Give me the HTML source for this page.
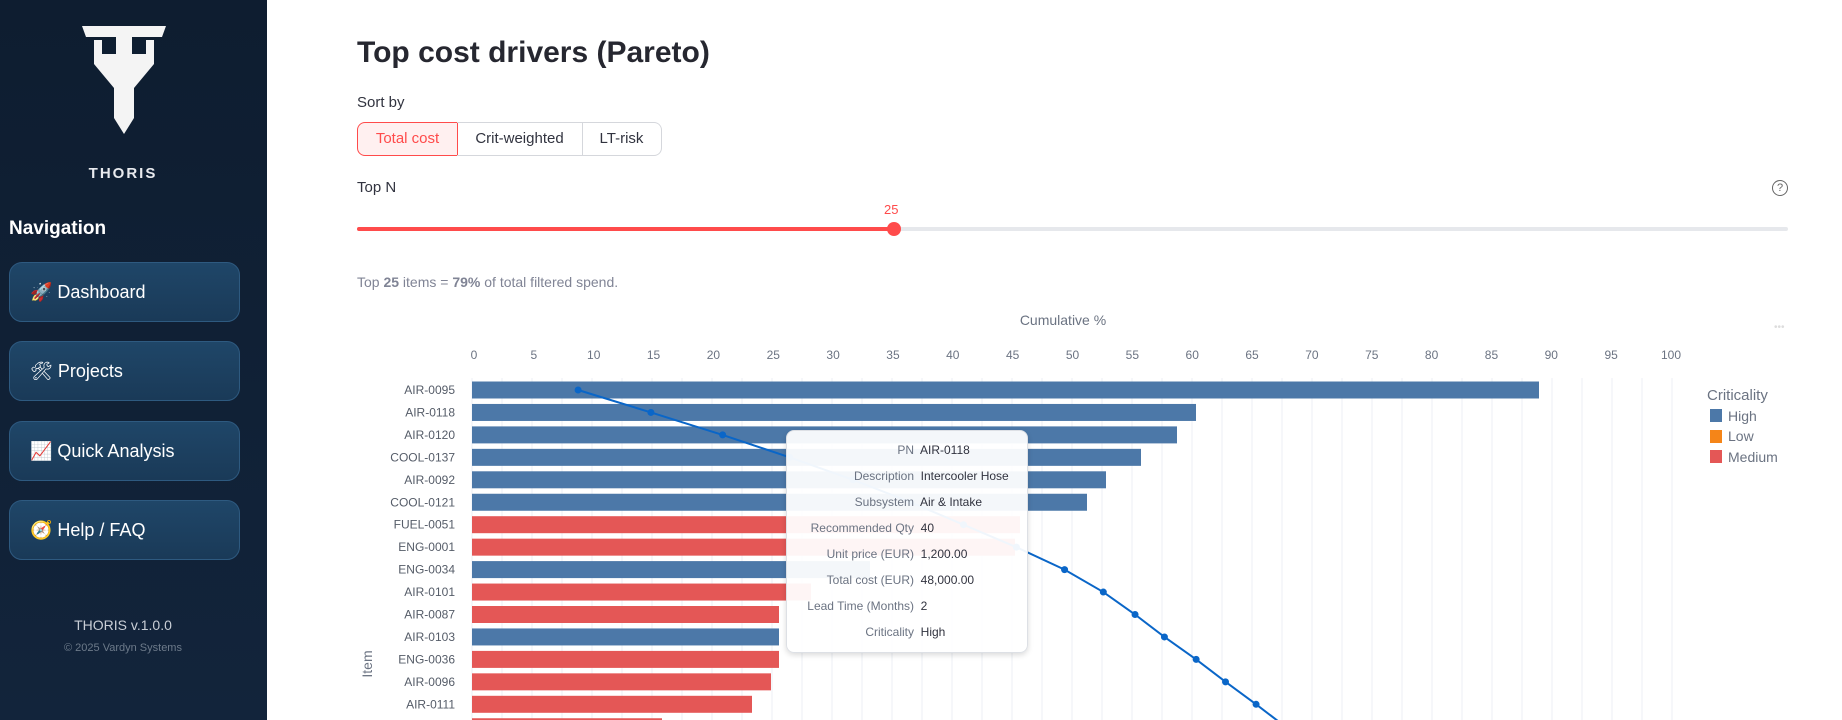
<!DOCTYPE html>
<html><head><meta charset="utf-8"><style>
body{margin:0;width:1842px;height:720px;overflow:hidden;background:#fff;font-family:"Liberation Sans",sans-serif;position:relative}
.sb{position:absolute;left:0;top:0;width:267px;height:720px;background:linear-gradient(#0e1d30,#12243b)}
.a{position:absolute;white-space:nowrap}
.nb{position:absolute;left:9px;width:231px;height:60px;border-radius:13px;background:linear-gradient(#1f4668,#1a3a58);border:1px solid #2e5a80;box-sizing:border-box;color:#fff;font-size:18px;line-height:58px;padding-left:20px}
.seg{position:absolute;top:122px;height:34px;border:1px solid #d5d7dc;box-sizing:border-box;font-size:15px;line-height:32px;text-align:center;color:#31333f}
</style></head><body>
<div class="sb">
<svg style="position:absolute;left:82px;top:26px" width="84" height="108" viewBox="0 0 84 108">
<path d="M0 0H84L80 11H50V28H64V14H72V38L52 62V92L42 108L32 92V62L12 38V14H20V28H34V11H4Z" fill="#f4f4f4"/></svg>
<div class="a" style="left:0;width:246px;text-align:center;top:165px;color:#e8eaee;font-weight:bold;font-size:15px;letter-spacing:2px">THORIS</div>
<div class="a" style="left:9px;top:218px;color:#fff;font-weight:bold;font-size:19px">Navigation</div>
<div class="nb" style="top:262px">🚀 Dashboard</div>
<div class="nb" style="top:341px">🛠 Projects</div>
<div class="nb" style="top:421px">📈 Quick Analysis</div>
<div class="nb" style="top:500px">🧭 Help / FAQ</div>
<div class="a" style="left:0;width:246px;text-align:center;top:617px;color:#c9ced6;font-size:14px">THORIS v.1.0.0</div>
<div class="a" style="left:0;width:246px;text-align:center;top:642px;color:#6d7a8a;font-size:11px">© 2025 Vardyn Systems</div>
</div>
<div class="a" style="left:357px;top:36px;font-size:30px;font-weight:bold;color:#262730">Top cost drivers (Pareto)</div>
<div class="a" style="left:357px;top:94px;font-size:15px;color:#31333f">Sort by</div>
<div class="seg" style="left:357px;width:101px;border-color:#ff4b4b;color:#ff4b4b;background:#fff0f0;border-radius:8px 0 0 8px">Total cost</div>
<div class="seg" style="left:457px;width:126px;border-left:none">Crit-weighted</div>
<div class="seg" style="left:582px;width:80px;border-left:none;border-radius:0 8px 8px 0">LT-risk</div>
<div class="a" style="left:357px;top:179px;font-size:15px;color:#31333f">Top N</div>
<div class="a" style="left:1772px;top:180px;width:14px;height:14px;border:1.5px solid #666;border-radius:50%;font-size:11px;line-height:14px;text-align:center;color:#666">?</div>
<div class="a" style="left:357px;top:227px;width:1431px;height:4px;background:#e6e8ec;border-radius:2px"></div>
<div class="a" style="left:357px;top:227px;width:537px;height:4px;background:#ff4b4b;border-radius:2px"></div>
<div class="a" style="left:887px;top:222px;width:14px;height:14px;background:#ff4b4b;border-radius:50%"></div>
<div class="a" style="left:884px;top:202px;font-size:13px;color:#ff4b4b">25</div>
<div class="a" style="left:357px;top:274px;font-size:14px;color:#808495">Top <b>25</b> items = <b>79%</b> of total filtered spend.</div>
<svg class="a" style="left:0;top:0" width="1842" height="720">
<g stroke="#eceff4" stroke-width="1" id="g"></g>
<text x="1063" y="325" font-size="14" fill="#6b7382" text-anchor="middle" font-family="Liberation Sans">Cumulative %</text>
<g id="t" font-size="12" fill="#6b7382" text-anchor="middle" font-family="Liberation Sans"></g>
<g id="b"></g>
<polyline id="ln" fill="none" stroke="#0a66c8" stroke-width="2"/>
<g id="p" fill="#0a66c8"></g>
<g id="lb" font-size="12" fill="#555c68" text-anchor="end" font-family="Liberation Sans"></g>
<text transform="translate(372,664) rotate(-90)" font-size="14" fill="#6b7382" text-anchor="middle" font-family="Liberation Sans">Item</text>
<text x="1707" y="400" font-size="15" fill="#6b7382" font-family="Liberation Sans">Criticality</text>
<rect x="1710" y="409" width="12" height="13" fill="#4c78a8"/><text x="1728" y="421" font-size="14" fill="#6b7382" font-family="Liberation Sans">High</text>
<rect x="1710" y="430" width="12" height="13" fill="#f58518"/><text x="1728" y="441" font-size="14" fill="#6b7382" font-family="Liberation Sans">Low</text>
<rect x="1710" y="450" width="12" height="13" fill="#e45756"/><text x="1728" y="462" font-size="14" fill="#6b7382" font-family="Liberation Sans">Medium</text>
<text x="1774" y="330" font-size="10" fill="#ddd">•••</text>
</svg>
<div class="a" style="left:786px;top:430px;width:240px;height:221px;background:rgba(255,255,255,0.94);border:1px solid #dde0e5;border-radius:8px;box-shadow:0 2px 6px rgba(0,0,0,.15);font-size:12px;color:#31333f">
<div style="position:absolute;left:0;top:6px;width:240px;line-height:26px">
<div><span style="display:inline-block;width:127px;text-align:right;color:#6b7382">PN</span>&nbsp; AIR-0118</div>
<div><span style="display:inline-block;width:127px;text-align:right;color:#6b7382">Description</span>&nbsp; Intercooler Hose</div>
<div><span style="display:inline-block;width:127px;text-align:right;color:#6b7382">Subsystem</span>&nbsp; Air &amp; Intake</div>
<div><span style="display:inline-block;width:127px;text-align:right;color:#6b7382">Recommended Qty</span>&nbsp; 40</div>
<div><span style="display:inline-block;width:127px;text-align:right;color:#6b7382">Unit price (EUR)</span>&nbsp; 1,200.00</div>
<div><span style="display:inline-block;width:127px;text-align:right;color:#6b7382">Total cost (EUR)</span>&nbsp; 48,000.00</div>
<div><span style="display:inline-block;width:127px;text-align:right;color:#6b7382">Lead Time (Months)</span>&nbsp; 2</div>
<div><span style="display:inline-block;width:127px;text-align:right;color:#6b7382">Criticality</span>&nbsp; High</div>
</div></div>
<script>
var ns="http://www.w3.org/2000/svg";function el(p,t,a,tx){var e=document.createElementNS(ns,t);for(var k in a)e.setAttribute(k,a[k]);if(tx)e.textContent=tx;document.getElementById(p).appendChild(e);}
for(var x=472;x<=1682;x+=30)el('g','line',{x1:x,x2:x,y1:378,y2:720});
for(var i=0;i<=20;i++)el('t','text',{x:474+i*59.85,y:359},String(i*5));
var L=["AIR-0095","AIR-0118","AIR-0120","COOL-0137","AIR-0092","COOL-0121","FUEL-0051","ENG-0001","ENG-0034","AIR-0101","AIR-0087","AIR-0103","ENG-0036","AIR-0096","AIR-0111",""];
var E=[1539,1196,1177,1141,1106,1087,1020,1015,870,811,779,779,779,771,752,662];
var C="BBBBBBRRBRRBRRRR";
var X=[492,554,615,672,726,775,820,865,906,939,966,991,1018,1043,1069,1094];
var pts=[];
for(var i=0;i<16;i++){var y=390+22.45*i;
el('b','rect',{x:472,y:y-8.5,width:E[i]-472,height:17,fill:C[i]=='B'?'#4c78a8':'#e45756'});
if(L[i])el('lb','text',{x:455,y:y+4},L[i]);
var px=X[i]*1.175;pts.push(px+','+y);el('p','circle',{cx:px,cy:y,r:3.5});}
document.getElementById('ln').setAttribute('points',pts.join(' '));
</script>
</body></html>
